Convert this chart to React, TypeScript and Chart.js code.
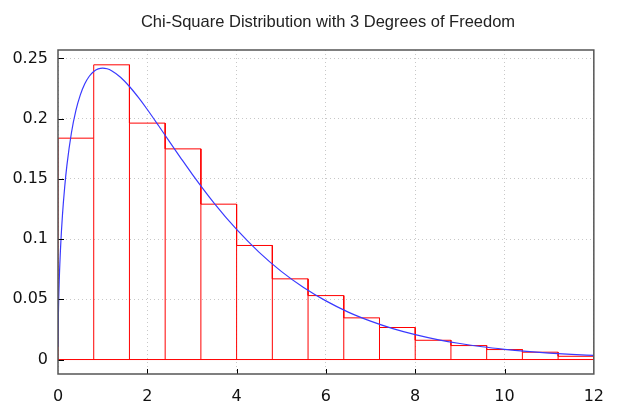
import React, { useEffect, useRef } from "react";
import { Chart, registerables } from "chart.js";

Chart.register(...registerables);

// Histogram bins (width 0.8, starting at 0)
const binEdges = [0, 0.8, 1.6, 2.4, 3.2, 4.0, 4.8, 5.6, 6.4, 7.2, 8.0, 8.8, 9.6, 10.4, 11.2, 12.0];
const binHeights = [0.1838, 0.2447, 0.1963, 0.1749, 0.129, 0.0947, 0.067, 0.0531, 0.0346, 0.0266, 0.016, 0.0116, 0.0083, 0.0061, 0.0027];

// Density curve
const curveX = [0.0007, 0.01, 0.03, 0.06, 0.1, 0.15, 0.2, 0.3, 0.4, 0.5, 0.6, 0.7, 0.8, 0.9, 1.0, 1.1, 1.2, 1.4, 1.6, 1.8, 2.0, 2.25, 2.5, 2.75, 3.0, 3.5, 4.0, 4.5, 5.0, 5.5, 6.0, 6.5, 7.0, 7.5, 8.0, 8.5, 9.0, 9.5, 10.0, 10.5, 11.0, 11.5, 12.0];
const curveY = [0.0106, 0.0397, 0.0681, 0.0948, 0.12, 0.1433, 0.1614, 0.1881, 0.2066, 0.2197, 0.2289, 0.2352, 0.2392, 0.2413, 0.242, 0.2414, 0.2398, 0.2344, 0.2267, 0.2176, 0.2076, 0.1943, 0.1807, 0.1673, 0.1542, 0.1297, 0.108, 0.0892, 0.0732, 0.0598, 0.0487, 0.0394, 0.0319, 0.0257, 0.0207, 0.0166, 0.0133, 0.0106, 0.0085, 0.0068, 0.0054, 0.0043, 0.0034];

const xTicks = [0, 2, 4, 6, 8, 10, 12];
const yTicks = [0, 0.05, 0.1, 0.15, 0.2, 0.25];

const TITLE = "Chi-Square Distribution with 3 Degrees of Freedom";

// outer step outline of the histogram
const outlinePoints: { x: number; y: number }[] = [{ x: binEdges[0], y: 0 }];
binHeights.forEach((h, i) => {
  outlinePoints.push({ x: binEdges[i], y: h }, { x: binEdges[i + 1], y: h });
});
outlinePoints.push({ x: binEdges[binEdges.length - 1], y: 0 }, { x: binEdges[0], y: 0 });

// interior bar edges down to the base (separate segments)
const innerEdgePoints: { x: number; y: number | null }[] = [];
for (let i = 1; i < binHeights.length; i++) {
  const top = Math.min(binHeights[i - 1], binHeights[i]);
  innerEdgePoints.push({ x: binEdges[i], y: 0 }, { x: binEdges[i], y: top }, { x: binEdges[i], y: null });
}

export default function App() {
  const ref = useRef<HTMLCanvasElement | null>(null);

  useEffect(() => {
    if (!ref.current) return;
    const framePlugin = {
      id: "frame",
      afterDraw(chart: any) {
        const { ctx, chartArea, scales } = chart;
        const { left, right, top, bottom } = chartArea;
        ctx.save();
        ctx.strokeStyle = "#000";
        ctx.lineWidth = 1;
        ctx.beginPath();
        xTicks.forEach((v) => {
          const px = Math.round(scales.x.getPixelForValue(v)) + 0.5;
          if (v === 0 || v === 12) return;
          ctx.moveTo(px, bottom);
          ctx.lineTo(px, bottom - 5);
        });
        yTicks.forEach((v) => {
          const py = Math.round(scales.y.getPixelForValue(v)) + 0.5;
          ctx.moveTo(left, py);
          ctx.lineTo(left + 6, py);
        });
        ctx.stroke();
        ctx.strokeStyle = "#555";
        ctx.lineWidth = 1.5;
        ctx.strokeRect(left, top, right - left, bottom - top);
        // title
        ctx.fillStyle = "#222";
        ctx.font = "16.5px 'Liberation Sans', Arial, sans-serif";
        ctx.textAlign = "center";
        ctx.textBaseline = "alphabetic";
        ctx.fillText(TITLE, 328, 27);
        ctx.restore();
      },
    };

    const redLine = {
      borderColor: "#ff0000",
      borderWidth: 1,
      pointRadius: 0,
      tension: 0,
      fill: false,
      spanGaps: false,
      order: 1,
    };

    const chart = new Chart(ref.current, {
      type: "line",
      data: {
        datasets: [
          {
            data: curveX.map((x, i) => ({ x, y: curveY[i] })),
            borderColor: "#3a3aff",
            borderWidth: 1.2,
            pointRadius: 0,
            cubicInterpolationMode: "monotone",
            fill: false,
            order: 0,
          } as any,
          { ...redLine, data: outlinePoints } as any,
          { ...redLine, data: innerEdgePoints } as any,
        ],
      },
      options: {
        responsive: false,
        animation: false,
        devicePixelRatio: 1,
        layout: { padding: { left: 0, right: 22, top: 50, bottom: 0 } },
        plugins: {
          legend: { display: false },
          tooltip: { enabled: false },
          title: { display: false },
        },
        scales: {
          x: {
            type: "linear",
            min: 0,
            max: 12,
            offset: false,
            afterBuildTicks: (s: any) => {
              s.ticks = xTicks.map((v) => ({ value: v }));
            },
            afterFit: (s: any) => {
              s.height = 32;
            },
            grid: {
              offset: false,
              color: "#c8c8c8",
              lineWidth: 1,
              drawTicks: false,
            },
            border: { display: false, dash: [1, 3] },
            ticks: {
              color: "#111",
              padding: 13,
              maxRotation: 0,
              font: { family: "'DejaVu Sans', sans-serif", size: 16 },
              callback: (v: any) => String(v),
            },
          },
          y: {
            type: "linear",
            min: -0.012,
            max: 0.257,
            afterBuildTicks: (s: any) => {
              s.ticks = yTicks.map((v) => ({ value: v }));
            },
            afterFit: (s: any) => {
              s.width = 58;
            },
            grid: {
              color: "#c8c8c8",
              lineWidth: 1,
              drawTicks: false,
            },
            border: { display: false, dash: [1, 3] },
            ticks: {
              color: "#111",
              padding: 10,
              font: { family: "'DejaVu Sans', sans-serif", size: 16 },
              callback: (v: any) => String(+(+v).toFixed(3)),
            },
          },
        },
      } as any,
      plugins: [framePlugin],
    });
    return () => chart.destroy();
  }, []);

  return (
    <div style={{ position: "absolute", left: 0, top: 0, width: 617, height: 406, background: "#fff" }}>
      <canvas ref={ref} width={617} height={406} style={{ width: 617, height: 406, display: "block" }} />
    </div>
  );
}
